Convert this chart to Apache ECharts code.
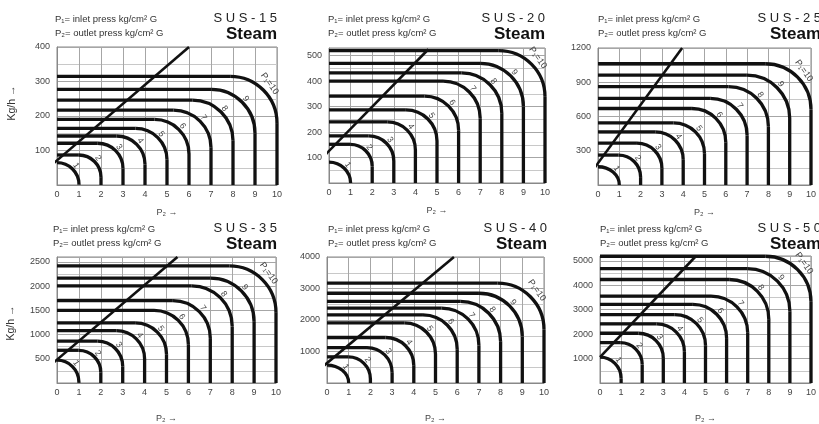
<!DOCTYPE html>
<html>
<head>
<meta charset="utf-8">
<script src="https://cdn.jsdelivr.net/npm/echarts@6/dist/echarts.min.js"></script>
<style>
  html, body { margin: 0; padding: 0; background: #fff; }
  #chart { width: 819px; height: 424px; }
</style>
</head>
<body>
<div id="chart"></div>
<script>
// ---- data ----
const models = ["SUS-15", "SUS-20", "SUS-25", "SUS-35", "SUS-40", "SUS-50"];
const inletP = [1, 2, 3, 4, 5, 6, 7, 8, 9, 10];          // P1, kg/cm² G
const outletTicks = [0, 1, 2, 3, 4, 5, 6, 7, 8, 9, 10];   // P2 axis

// max flow (kg/h) of each P1 curve
const flowSUS15 = [65, 87, 121, 142, 164, 190, 217, 246, 277, 315];
const flowSUS20 = [82, 152, 185, 240, 287, 341, 400, 432, 470, 520];
const flowSUS25 = [160, 262, 366, 466, 545, 670, 758, 862, 962, 1062];
const flowSUS35 = [470, 675, 865, 1080, 1240, 1500, 1700, 2005, 2165, 2415];
const flowSUS40 = [570, 830, 1125, 1445, 1910, 2160, 2380, 2590, 2850, 3170];
const flowSUS50 = [1056, 1654, 2036, 2417, 2800, 3220, 3560, 4237, 4680, 5190];

const yMaxes = [400, 530, 1200, 2600, 4000, 5200];
const yIntervals = [100, 100, 300, 500, 1000, 1000];

// critical line of each panel: [P2, kg/h] end points
const diagSUS15 = [[-1.3, 0], [6.0, 400]];
const diagSUS20 = [[-1.45, 0], [4.6, 525]];
const diagSUS25 = [[-0.75, 0], [3.95, 1200]];
const diagSUS35 = [[-1.25, 0], [5.5, 2600]];
const diagSUS40 = [[-1.1, 0], [5.85, 4000]];
const diagSUS50 = [[0, 1056], [4.55, 5200]];

const flows = [flowSUS15, flowSUS20, flowSUS25, flowSUS35, flowSUS40, flowSUS50];
const diags = [diagSUS15, diagSUS20, diagSUS25, diagSUS35, diagSUS40, diagSUS50];

// ---- layout ----
const gridBoxes = [
  [57, 47, 220, 138], [329, 48, 216, 135], [598, 48, 220, 137],
  [57, 257, 219, 136], [327, 257, 217, 136], [600, 256, 218, 137]
];
const headLeft = [55, 328, 598, 53, 328, 600];
const titleRight = [277, 545, 821, 277, 547, 821];
const K = 0.5523;

const chart = echarts.init(document.getElementById("chart"));

// corner radius (px) of the bend grows a little with the curve width
function cornerRadius(w) {
  return Math.max(Math.min(w, 22), 16 + 0.14 * w);
}

function curveSeries(i) {
  return {
    type: "custom",
    xAxisIndex: i,
    yAxisIndex: i,
    data: inletP.map((p, j) => [p, flows[i][j]]),
    renderItem(params, api) {
      const p = api.value(0), q = api.value(1);
      const s = api.coord([0, q]);
      const e = api.coord([p, 0]);
      const w = e[0] - s[0], h = e[1] - s[1];
      const r = cornerRadius(w);
      const rx = Math.min(r, w);
      const ry = Math.min(r, h);
      const line = { stroke: "#111", lineWidth: 3.3, fill: null };
      const cx = e[0] - rx, cy = s[1] + ry;
      const last = p === 10;
      const off = last ? 9 : 5;
      const a = Math.PI / 4;
      return {
        type: "group",
        children: [
          { type: "line", shape: { x1: s[0], y1: s[1], x2: cx, y2: s[1] }, style: line },
          {
            type: "bezierCurve",
            shape: {
              x1: cx, y1: s[1],
              cpx1: cx + K * rx, cpy1: s[1],
              cpx2: e[0], cpy2: cy - K * ry,
              x2: e[0], y2: cy
            },
            style: line
          },
          { type: "line", shape: { x1: e[0], y1: cy, x2: e[0], y2: e[1] }, style: line },
          {
            type: "text",
            x: cx + (rx + off) * Math.cos(a),
            y: cy - (ry + off) * Math.sin(a),
            rotation: -0.95,
            style: {
              text: last ? "P₁=10" : String(p),
              fontSize: last ? 9 : 8.5,
              fontFamily: "Arial",
              fill: "#444",
              align: "center",
              verticalAlign: "middle"
            }
          }
        ]
      };
    }
  };
}

const grids = [], xAxes = [], yAxes = [], series = [], graphics = [];

models.forEach((m, i) => {
  const [l, t, w, h] = gridBoxes[i];
  const bottomRow = i >= 3;
  grids.push({ left: l, top: t, width: w, height: h, show: true, borderColor: "#888", borderWidth: 1 });
  xAxes.push({
    gridIndex: i,
    type: "value",
    min: outletTicks[0],
    max: outletTicks[outletTicks.length - 1],
    interval: 1,
    name: "P₂ →",
    nameLocation: "middle",
    nameGap: bottomRow ? 31 : 23,
    nameTextStyle: { fontSize: 9, color: "#444", fontFamily: "Arial" },
    axisLine: { lineStyle: { color: "#888" } },
    axisTick: { show: false },
    axisLabel: { fontSize: 9, color: "#444", margin: 5, fontFamily: "Arial" },
    splitLine: { show: true, lineStyle: { color: "#a6a6a6", width: 1 } }
  });
  yAxes.push({
    gridIndex: i,
    type: "value",
    min: 0,
    max: yMaxes[i],
    interval: yIntervals[i],
    axisLine: { show: true, lineStyle: { color: "#888" } },
    axisTick: { show: false },
    axisLabel: {
      fontSize: 9, color: "#444", margin: 7, fontFamily: "Arial",
      showMinLabel: false,
      showMaxLabel: yMaxes[i] % yIntervals[i] === 0,
      formatter: v => String(v)
    },
    minorTick: { show: false, splitNumber: 2 },
    minorSplitLine: { show: true, lineStyle: { color: "#c8c8c8", width: 1 } },
    splitLine: { show: true, lineStyle: { color: "#a6a6a6", width: 1 } }
  });
  series.push(curveSeries(i));
  series.push({
    type: "line",
    xAxisIndex: i,
    yAxisIndex: i,
    data: diags[i],
    symbol: "none",
    clip: false,
    silent: true,
    lineStyle: { color: "#111", width: 2.6 }
  });

  const y1 = bottomRow ? 229 : 19;
  graphics.push(
    { type: "text", x: headLeft[i], y: y1, style: { text: "P₁= inlet press kg/cm² G", fontSize: 9.5, fontFamily: "Arial", fill: "#333", verticalAlign: "middle" } },
    { type: "text", x: headLeft[i], y: y1 + 14, style: { text: "P₂= outlet press kg/cm² G", fontSize: 9.5, fontFamily: "Arial", fill: "#333", verticalAlign: "middle" } },
    { type: "text", x: titleRight[i], y: y1 - 1, style: { text: m.split("").join(" "), fontSize: 13, fontFamily: "Arial", fill: "#222", align: "right", verticalAlign: "middle" } },
    { type: "text", x: titleRight[i], y: y1 + 15, style: { text: "Steam", fontSize: 17, fontWeight: "bold", fontFamily: "Arial", fill: "#111", align: "right", verticalAlign: "middle" } }
  );
});

graphics.push(
  { type: "text", x: 12, y: 103, rotation: Math.PI / 2, style: { text: "Kg/h →", fontSize: 10.5, fontFamily: "Arial", fill: "#333", align: "center", verticalAlign: "middle" } },
  { type: "text", x: 11, y: 323, rotation: Math.PI / 2, style: { text: "Kg/h →", fontSize: 10.5, fontFamily: "Arial", fill: "#333", align: "center", verticalAlign: "middle" } }
);

chart.setOption({
  backgroundColor: "#fff",
  animation: false,
  grid: grids,
  xAxis: xAxes,
  yAxis: yAxes,
  series: series,
  graphic: graphics
});

window.addEventListener("resize", () => chart.resize());
</script>
</body>
</html>
